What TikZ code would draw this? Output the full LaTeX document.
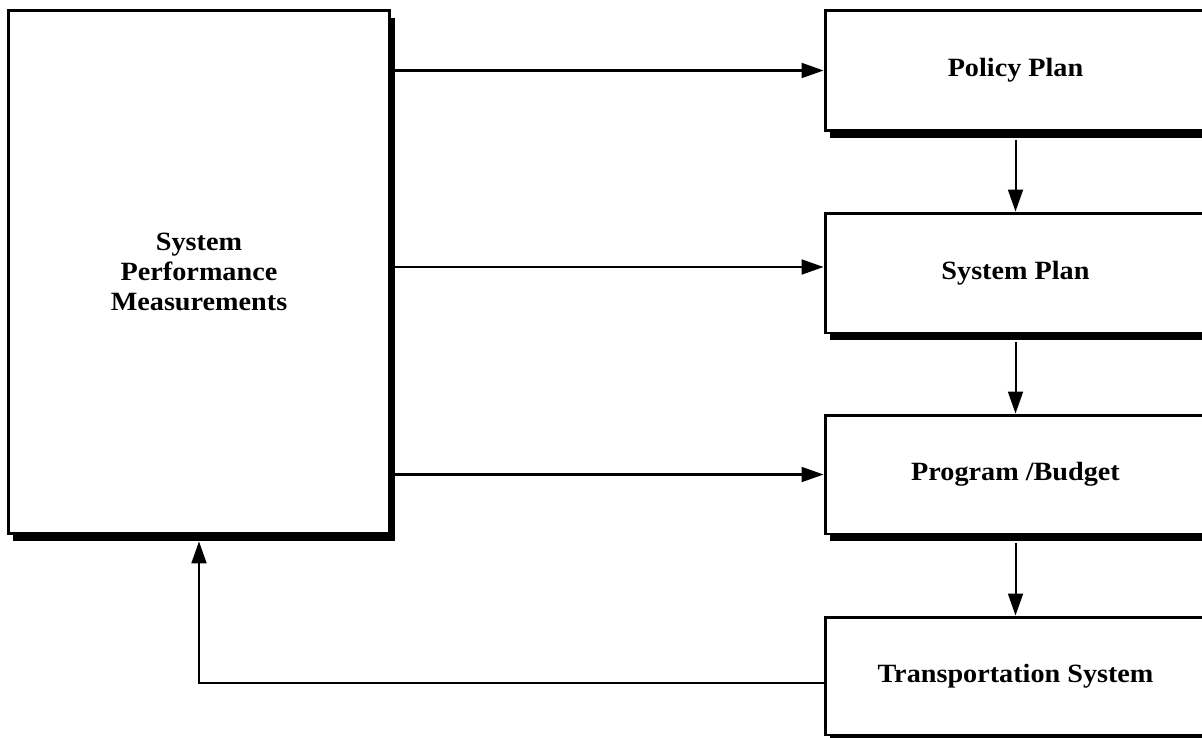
\documentclass[tikz,border=0pt]{standalone}
\usepackage{fontspec}
\newfontfamily\bfont[FakeStretch=1.07]{Liberation Serif Bold}
\usetikzlibrary{arrows.meta,shadows}
\tikzset{
  blk/.style={draw, line width=1.7pt, fill=white, inner sep=0pt,
    drop shadow={shadow xshift=0.1cm, shadow yshift=-0.15cm, fill=black, opacity=1},
    font=\bfont\fontsize{15}{17}\selectfont, align=center},
  arr/.style={line width=1.15pt, -{Triangle[length=12.5pt,width=8.5pt]}}
}
\begin{document}
\begin{tikzpicture}[x=0.02cm,y=-0.02cm]
\useasboundingbox (0,0) rectangle (1202,737);
\clip (0,0) rectangle (1202,737);
\fill[white] (0,0) rectangle (1202,737);
\node[blk, minimum width=7.64cm, minimum height=10.48cm] (L) at (199,272) {System\\Performance\\Measurements};
\node[blk, minimum width=7.62cm, minimum height=2.42cm] (P) at (1015.5,70.5) {Policy Plan};
\node[blk, minimum width=7.62cm, minimum height=2.40cm] (S) at (1015.5,273) {System Plan};
\node[blk, minimum width=7.62cm, minimum height=2.38cm] (B) at (1015.5,474.5) {Program /Budget};
\node[blk, minimum width=7.62cm, minimum height=2.36cm] (T) at (1015.5,676) {Transportation System};
\coordinate (s1) at ([yshift=0.12cm]S.west);
\coordinate (t1) at ([yshift=-0.14cm]T.west);
\draw[arr] (L.east |- P.west) -- (P.west);
\draw[arr] (L.east |- s1) -- (s1);
\draw[arr] (L.east |- B.west) -- (B.west);
\draw[arr] ([yshift=-0.15cm]P.south) -- (S.north);
\draw[arr] ([yshift=-0.15cm]S.south) -- (B.north);
\draw[arr] ([yshift=-0.15cm]B.south) -- (T.north);
\draw[arr, shorten >=3.4pt] (t1) -| (L.south);
\end{tikzpicture}
\end{document}
